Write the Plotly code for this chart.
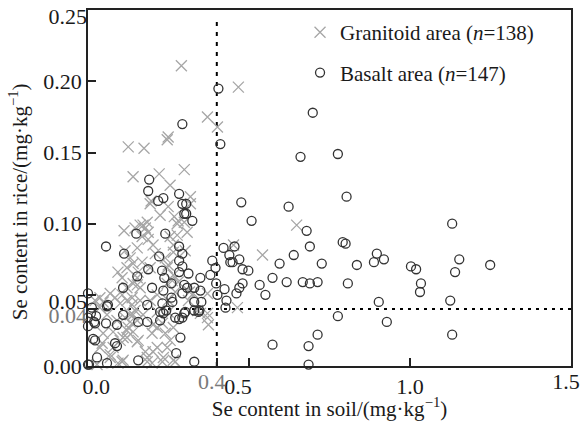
import plotly.graph_objects as go

# ---------------- data ----------------
granitoid_x = [0.290, 0.467, 0.371, 0.402, 0.125, 0.174, 0.249, 0.246, 0.140, 0.221, 0.299, 0.255, 0.318,
               0.648, 0.452, 0.464, 0.542, 0.299,
               0.112, 0.146, 0.171, 0.184, 0.187, 0.168, 0.187, 0.202, 0.209, 0.115, 0.140, 0.156, 0.140,
               0.162, 0.106, 0.093, 0.121, 0.137, 0.146, 0.131, 0.153, 0.125, 0.140, 0.121, 0.100, 0.156,
               0.044, 0.078, 0.069, 0.093, 0.109, 0.199, 0.178, 0.215, 0.234, 0.265, 0.255, 0.240, 0.199,
               0.265, 0.215, 0.249, 0.193, 0.215, 0.246, 0.280, 0.265, 0.249, 0.265, 0.255, 0.277, 0.249,
               0.224, 0.193, 0.318, 0.308, 0.302, 0.327, 0.312, 0.349, 0.371, 0.374, 0.037, 0.047, 0.078,
               0.090, 0.115, 0.100, 0.084, 0.037, 0.022, 0.184, 0.028, 0.371, 0.315, 0.371, 0.340, 0.268,
               0.196,
               0.162, 0.178, 0.153, 0.131, 0.168, 0.193, 0.153, 0.153, 0.121, 0.106, 0.137, 0.162, 0.171,
               0.140, 0.131, 0.121, 0.109, 0.153, 0.069, 0.106, 0.184, 0.202, 0.246, 0.231, 0.271, 0.231,
               0.202, 0.215, 0.249, 0.271, 0.262, 0.246, 0.240, 0.265, 0.277, 0.280, 0.059, 0.047, 0.069,
               0.121, 0.037]
granitoid_y = [0.211, 0.196, 0.175, 0.168, 0.154, 0.153, 0.161, 0.159, 0.133, 0.135, 0.138, 0.127, 0.119,
               0.099, 0.085, 0.041, 0.078, 0.101,
               0.095, 0.097, 0.099, 0.101, 0.094, 0.091, 0.089, 0.085, 0.079, 0.081, 0.072, 0.066, 0.058,
               0.055, 0.062, 0.066, 0.046, 0.043, 0.039, 0.036, 0.032, 0.027, 0.024, 0.020, 0.018, 0.018,
               0.016, 0.013, 0.006, 0.002, 0.004, 0.002, 0.010, 0.013, 0.006, 0.004, 0.018, 0.023, 0.023,
               0.027, 0.027, 0.038, 0.046, 0.050, 0.058, 0.059, 0.064, 0.071, 0.085, 0.091, 0.100, 0.112,
               0.106, 0.114, 0.114, 0.094, 0.081, 0.051, 0.046, 0.037, 0.034, 0.029, 0.013, 0.023, 0.024,
               0.032, 0.034, 0.044, 0.048, 0.041, 0.046, 0.003, 0.001, 0.051, 0.052, 0.037, 0.039, 0.105,
               0.116,
               0.099, 0.097, 0.083, 0.076, 0.073, 0.069, 0.057, 0.062, 0.055, 0.050, 0.048, 0.046, 0.036,
               0.036, 0.031, 0.025, 0.020, 0.017, 0.008, 0.003, 0.006, 0.010, 0.013, 0.003, 0.003, 0.030,
               0.029, 0.038, 0.046, 0.052, 0.060, 0.069, 0.076, 0.080, 0.092, 0.102, 0.036, 0.045, 0.051,
               0.069, 0.048]

basalt_x = [0.405, 0.411, 0.293, 0.190, 0.187, 0.283, 0.234, 0.218, 0.660, 0.476, 0.698, 0.776, 0.803,
            0.623, 0.679, 0.689, 0.639, 0.595, 0.726, 0.617, 0.667, 0.689, 0.713, 0.791, 0.800, 0.835,
            0.807, 0.888, 0.897, 0.919, 0.903, 0.776, 0.928, 0.713, 0.685, 0.685, 1.003, 1.019, 1.034,
            1.031, 1.131, 1.153, 1.140, 1.249, 1.125, 1.131, 0.508, 0.573, 0.533, 0.551, 0.498, 0.480,
            0.470, 0.449, 0.442, 0.439, 0.455, 0.421, 0.480, 0.470, 0.461, 0.424, 0.430, 0.427, 0.402,
            0.398, 0.396, 0.386, 0.380, 0.349, 0.330, 0.349, 0.330, 0.352, 0.346, 0.573, 0.330,
            0.324, 0.299, 0.293, 0.240, 0.283, 0.293, 0.221, 0.293, 0.283, 0.312, 0.230, 0.237, 0.299,
            0.259, 0.234, 0.259, 0.262, 0.293, 0.302, 0.271, 0.283, 0.293, 0.224, 0.231, 0.243, 0.224,
            0.184, 0.184, 0.199, 0.187, 0.153, 0.150, 0.112, 0.056, 0.109, 0.059, 0.090, 0.109, 0.056,
            0.025, 0.000, 0.000, 0.022, 0.012, 0.000, 0.016, 0.022, 0.084, 0.090, 0.028, 0.059, 0.000,
            0.003, 0.156, 0.156, 0.287, 0.274, 0.062, 0.009, 0.019, 0.308, 0.305, 0.305, 0.299, 0.330,
            0.343, 0.234, 0.283]
basalt_y = [0.195, 0.156, 0.170, 0.131, 0.123, 0.121, 0.118, 0.116, 0.147, 0.115, 0.178, 0.149, 0.119,
            0.112, 0.095, 0.084, 0.078, 0.072, 0.072, 0.059, 0.059, 0.058, 0.059, 0.087, 0.086, 0.071,
            0.058, 0.073, 0.079, 0.075, 0.045, 0.035, 0.031, 0.022, 0.014, 0.001, 0.070, 0.068, 0.058,
            0.052, 0.100, 0.075, 0.066, 0.071, 0.046, 0.022, 0.102, 0.062, 0.057, 0.050, 0.067, 0.068,
            0.075, 0.073, 0.073, 0.078, 0.084, 0.083, 0.058, 0.055, 0.051, 0.054, 0.046, 0.041, 0.050,
            0.058, 0.069, 0.074, 0.064, 0.062, 0.055, 0.053, 0.045, 0.045, 0.039, 0.015, 0.003,
            0.102, 0.107, 0.114, 0.093, 0.084, 0.079, 0.077, 0.070, 0.066, 0.065, 0.067, 0.062, 0.057,
            0.058, 0.053, 0.048, 0.045, 0.051, 0.038, 0.034, 0.033, 0.034, 0.038, 0.044, 0.039, 0.032,
            0.031, 0.043, 0.055, 0.068, 0.063, 0.093, 0.079, 0.084, 0.055, 0.042, 0.029, 0.036, 0.030,
            0.035, 0.034, 0.028, 0.030, 0.041, 0.051, 0.019, 0.018, 0.016, 0.014, 0.006, 0.002, 0.001,
            0.001, 0.004, 0.031, 0.020, 0.009, 0.043, 0.037, 0.031, 0.055, 0.114, 0.107, 0.037, 0.039,
            0.038, 0.037, 0.074]

NB = "\u00a0"
GRAY = "#7a7a7a"
# main x ticks, plus labels shifted slightly left (0.4 and 1.5) on an overlaying label axis
x_tickvals = [0.0, 0.4, 0.5, 1.0, 1.5]
x_ticktext = [NB * 3 + "0.0", "", "0.5" + NB * 4, "1.0", ""]
x_shift_tickvals = [0.4, 1.5]
x_shift_ticktext = [f"<span style='color:{GRAY}'>0.4</span>", "1.5"]
# main y ticks, plus labels drawn a few px lower (as in the reference)
y_tickvals = [0.0, 0.04, 0.05, 0.10, 0.15, 0.20, 0.25]
y_ticktext = ["0.00", "", "", "0.10", "0.15", "0.20", ""]
y_shift_tickvals = [0.04, 0.05, 0.25]
y_shift_ticktext = [f"<span style='color:{GRAY}'>0.04</span>", "0.05", "0.25"]
soil_threshold = 0.4
rice_threshold = 0.04

FONT = "Liberation Serif"
X_RANGE = [0, 1.5]
Y_RANGE = [0, 0.2502]

fig = go.Figure()
fig.add_trace(go.Scatter(
    x=granitoid_x, y=granitoid_y, mode="markers",
    name="Granitoid area (<i>n</i>=138)", legendgroup="g",
    marker=dict(symbol="x-thin-open", size=11, color="#a6a6a6", line=dict(color="#a6a6a6", width=1.3)),
    cliponaxis=False,
))
fig.add_trace(go.Scatter(
    x=basalt_x, y=basalt_y, mode="markers",
    name="Basalt area (<i>n</i>=147)", legendgroup="b",
    marker=dict(symbol="circle-open", size=9, color="#333333", line=dict(color="#333333", width=1.3)),
    cliponaxis=False,
))
# empty traces so the overlaying label axes are drawn
fig.add_trace(go.Scatter(x=[], y=[], yaxis="y2", showlegend=False, hoverinfo="skip", mode="markers"))
fig.add_trace(go.Scatter(x=[], y=[], xaxis="x2", showlegend=False, hoverinfo="skip", mode="markers"))

fig.add_shape(type="line", x0=soil_threshold, x1=soil_threshold, y0=0, y1=0.244,
              xref="x", yref="y", line=dict(color="black", width=2, dash="4px,6px"), layer="below")
fig.add_shape(type="line", x0=0, x1=1.5, y0=rice_threshold, y1=rice_threshold,
              xref="x", yref="y", line=dict(color="black", width=2, dash="3px,5px"), layer="below")

label_axis = dict(tickmode="array", tickangle=0, ticks="", showline=False, showgrid=False,
                  zeroline=False, ticklabeloverflow="allow", automargin=False,
                  tickfont=dict(size=22, family=FONT, color="#1a1a1a"))

fig.update_layout(
    width=580, height=421,
    margin=dict(l=88, r=9, t=10, b=55),
    paper_bgcolor="white", plot_bgcolor="white",
    font=dict(family=FONT, size=21, color="#1a1a1a"),
    showlegend=True,
    legend=dict(x=0.439, y=0.994, xanchor="left", yanchor="top",
                bgcolor="rgba(0,0,0,0)", font=dict(size=21, family=FONT),
                tracegroupgap=10, traceorder="grouped", itemwidth=30),
    xaxis=dict(range=X_RANGE, tickmode="array", tickvals=x_tickvals, ticktext=x_ticktext,
               tickangle=0,
               ticks="inside", ticklen=8, tickwidth=1.5, tickcolor="#222",
               showline=True, linecolor="#222", linewidth=1.5, mirror=True,
               showgrid=False, zeroline=False, ticklabeloverflow="allow", automargin=False,
               tickfont=dict(size=22, family=FONT),
               title=dict(text="Se content in soil/(mg·kg<sup>−1</sup>)", standoff=4,
                          font=dict(size=21, family=FONT))),
    xaxis2=dict(range=X_RANGE, overlaying="x", side="bottom", anchor="y",
                tickvals=x_shift_tickvals, ticktext=x_shift_ticktext, ticklabelshift=-5,
                **label_axis),
    yaxis=dict(range=Y_RANGE, tickmode="array", tickvals=y_tickvals, ticktext=y_ticktext,
               tickangle=0,
               ticks="inside", ticklen=8, tickwidth=1.5, tickcolor="#222",
               showline=True, linecolor="#222", linewidth=1.5, mirror=True,
               showgrid=False, zeroline=False, ticklabeloverflow="allow", automargin=False,
               tickfont=dict(size=22, family=FONT)),
    yaxis2=dict(range=Y_RANGE, overlaying="y", side="left", anchor="x",
                tickvals=y_shift_tickvals, ticktext=y_shift_ticktext, ticklabelshift=6,
                **label_axis),
    annotations=[dict(text="Se content in rice/(mg·kg<sup>−1</sup>)", textangle=-90,
                      xref="paper", yref="paper", x=-0.145, y=0.463,
                      xanchor="center", yanchor="middle", showarrow=False,
                      font=dict(size=21, family=FONT, color="#1a1a1a"))],
)

fig.write_html("out.html")
